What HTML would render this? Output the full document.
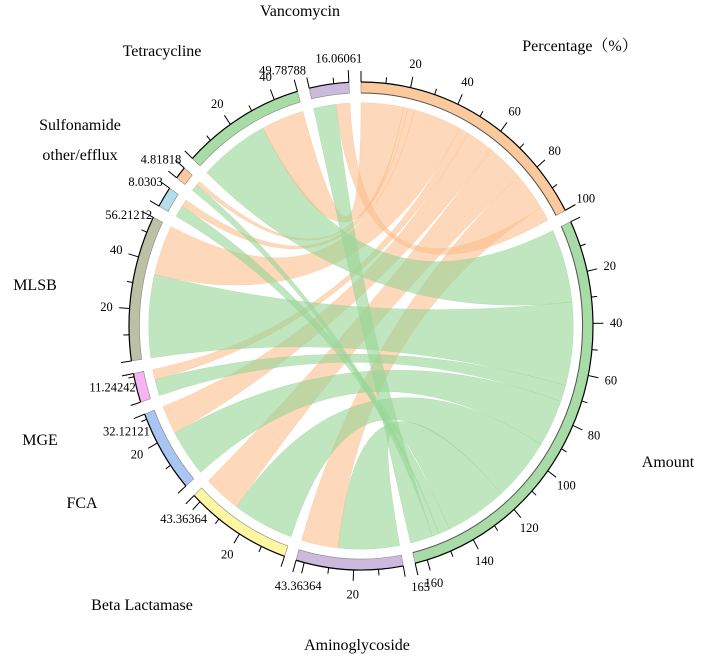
<!DOCTYPE html>
<html><head><meta charset="utf-8"><style>
html,body{margin:0;padding:0;background:#fff;}
svg{display:block;font-family:"Liberation Serif",serif;}
</style></head><body>
<svg id="chart" width="707" height="658" viewBox="0 0 707 658" xmlns="http://www.w3.org/2000/svg">
<g id="ribbons"></g>
<g id="bands"></g>
<g id="axes"></g>
<g id="names"></g>
</svg>
<script>
const categories = ["Aminoglycoside","Beta Lactamase","FCA","MGE","MLSB","other/efflux","Sulfonamide","Tetracycline","Vancomycin"];
const categoryValues = [43.36364,43.36364,32.12121,11.24242,56.21212,8.0303,4.81818,49.78788,16.06061];
const percentageTotal = 100;
const amountTotal = 165;
const amountOrder = ["Tetracycline","MLSB","MGE","FCA","Beta Lactamase","Aminoglycoside","other/efflux","Sulfonamide","Vancomycin"];
const percentOrder = ["Tetracycline","Sulfonamide","other/efflux","MLSB","MGE","FCA","Beta Lactamase","Aminoglycoside","Vancomycin"];
const tickStep = 20;

const NS="http://www.w3.org/2000/svg";
const cx=361, cy=326, RX=232, RY=244, GAP=3;
const colors={"Percentage":"#fbc99c","Amount":"#a8dca6","Aminoglycoside":"#cbbade","Beta Lactamase":"#fdf6a3","FCA":"#a9c5f1","MGE":"#f8b3f2","MLSB":"#bcc0a5","other/efflux":"#b3deeb","Sulfonamide":"#fbc99c","Tetracycline":"#a8dca6","Vancomycin":"#cbbade"};
const segNames=["Percentage","Amount"].concat(categories);
const segVals=[percentageTotal,amountTotal].concat(categoryValues);
const total=segVals.reduce((a,b)=>a+b,0);
const U=(360-GAP*segVals.length)/total;
const segStart={};
let acc=0;
segNames.forEach((n,i)=>{segStart[n]=acc;acc+=segVals[i]*U+GAP;});
function ang(seg,v){return segStart[seg]+v*U;}
function pt(a,r){const t=a*Math.PI/180;return [cx+r*RX*Math.sin(t),cy-r*RY*Math.cos(t)];}
function arcPath(a1,a2,r){const q=pt(a2,r);const large=(a2-a1)>180?1:0;return `A${(r*RX).toFixed(2)} ${(r*RY).toFixed(2)} 0 ${large} 1 ${q[0].toFixed(2)} ${q[1].toFixed(2)}`;}
function P(p){return p[0].toFixed(2)+" "+p[1].toFixed(2);}
function mk(tag,attrs,parent){const e=document.createElementNS(NS,tag);for(const k in attrs)e.setAttribute(k,attrs[k]);parent.appendChild(e);return e;}

const bands=document.getElementById('bands');
segNames.forEach((n,i)=>{
  const a1=segStart[n],a2=a1+segVals[i]*U;
  const ro=1.0,ri=0.955;
  const d=`M${P(pt(a1,ro))}${arcPath(a1,a2,ro)}L${P(pt(a2,ri))}A${(ri*RX).toFixed(2)} ${(ri*RY).toFixed(2)} 0 0 0 ${P(pt(a1,ri))}Z`;
  const e=mk('path',{d:d,fill:colors[n],stroke:'#888','stroke-width':0.6},bands);
  
  
  if(i<2){
    const l=mk('path',{d:`M${P(pt(a1,ri))}${arcPath(a1,a2,ri)}`,fill:'none',stroke:'#555','stroke-width':1},bands);
    
    
  }
});

const rib=document.getElementById('ribbons');
const pOff={},aOff={};
let pa=0,aa=0;
percentOrder.forEach(n=>{const v=categoryValues[categories.indexOf(n)];pOff[n]=pa;pa+=v*percentageTotal/(percentageTotal+amountTotal);});
amountOrder.forEach(n=>{const v=categoryValues[categories.indexOf(n)];aOff[n]=aa;aa+=v*amountTotal/(percentageTotal+amountTotal);});
const RR=0.915;
function ribbon(a1,a2,b1,b2,fill,name){
  const d=`M${P(pt(a1,RR))}${arcPath(a1,a2,RR)}Q${cx} ${cy} ${P(pt(b1,RR))}${arcPath(b1,b2,RR)}Q${cx} ${cy} ${P(pt(a1,RR))}Z`;
  const e=mk('path',{d:d,fill:fill,stroke:fill,'stroke-width':0.5},rib);
  
  
}
categories.forEach((n,i)=>{
  const v=categoryValues[i];
  const am=v*amountTotal/(percentageTotal+amountTotal);
  const pc=v*percentageTotal/(percentageTotal+amountTotal);
  const c0=ang(n,0);
  ribbon(c0,c0+am*U,ang("Amount",aOff[n]),ang("Amount",aOff[n]+am),'rgba(150,214,150,0.6)','ribbon-amount-'+n.toLowerCase().replace(/[^a-z]+/g,'-'));
  ribbon(c0+am*U,c0+v*U,ang("Percentage",pOff[n]),ang("Percentage",pOff[n]+pc),'rgba(251,190,140,0.6)','ribbon-percentage-'+n.toLowerCase().replace(/[^a-z]+/g,'-'));
});

const axes=document.getElementById('axes');
segNames.forEach((n,i)=>{
  const max=segVals[i];
  const a1=segStart[n],a2=a1+max*U;
  const ax=mk('path',{d:`M${P(pt(a1,1.0))}${arcPath(a1,a2,1.0)}`,fill:'none',stroke:'#000','stroke-width':1.2},axes);
  
  
  for(let v=0;v<=max+1e-6;v+=tickStep/2){
    const major=Math.abs(v/tickStep-Math.round(v/tickStep))<1e-6;
    const a=ang(n,v);
    const t=mk('line',{},axes);
    const p=pt(a,1.0),q=pt(a,major?1.045:1.025);
    t.setAttribute('x1',p[0]);t.setAttribute('y1',p[1]);t.setAttribute('x2',q[0]);t.setAttribute('y2',q[1]);
    t.setAttribute('stroke','#000');t.setAttribute('stroke-width',1);
    
    
    if(major && v>0 && max-v>4.5){
      const lp=pt(a,1.1);
      const tx=mk('text',{x:lp[0],y:lp[1]+4,'text-anchor':'middle','font-size':12.5},axes);
      tx.textContent=v;
      
      
    }
  }
  const e=pt(a2,1.0),f=pt(a2,1.05);
  const t=mk('line',{x1:e[0],y1:e[1],x2:f[0],y2:f[1],stroke:'#000','stroke-width':1},axes);
  
  
  const lp=pt(a2+(i<2?0:-2),1.1);
  const tx=mk('text',{x:lp[0],y:lp[1]+4,'text-anchor':'middle','font-size':12.5},axes);
  tx.textContent=String(max);
  
  
});

const namePos={"Vancomycin":[300,16],"Tetracycline":[162,56],"Percentage":[580,51],"Sulfonamide":[80,130],"other/efflux":[80,160],"MLSB":[35,290],"MGE":[40,445],"FCA":[82,508],"Beta Lactamase":[142,610],"Amount":[668,467],"Aminoglycoside":[357,650]};
const names=document.getElementById('names');
segNames.forEach(n=>{
  const p=namePos[n];
  const t=mk('text',{x:p[0],y:p[1],'text-anchor':'middle','font-size':16},names);
  t.textContent=n==="Percentage"?"Percentage（%）":n;
  if(n==="Percentage")t.setAttribute('style','font-family:"Liberation Serif","Noto Serif CJK SC",serif');
  
  
});
</script>
</body></html>
